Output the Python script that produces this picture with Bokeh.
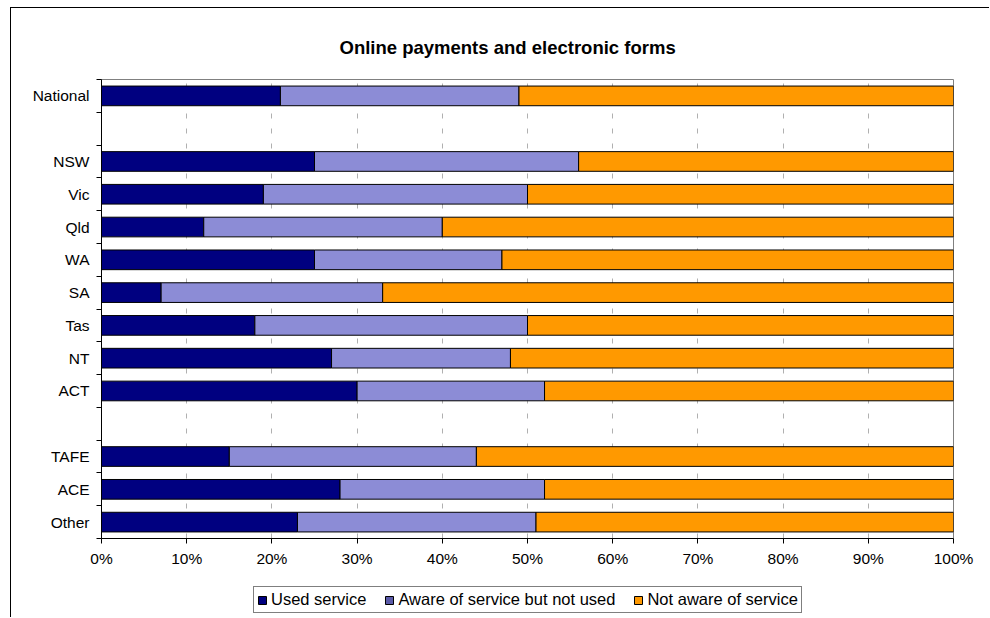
from bokeh.plotting import figure
from bokeh.layouts import column
from bokeh.models import (ColumnDataSource, Range1d, FixedTicker, SingleIntervalTicker,
                          PrintfTickFormatter, Legend, LegendItem)
from bokeh.transform import stack
from bokeh.embed import file_html
from bokeh.resources import INLINE

# ---- data (percent) ----
categories = ["National", "", "NSW", "Vic", "Qld", "WA", "SA", "Tas", "NT", "ACT", "", "TAFE", "ACE", "Other"]
used      = [21, None, 25, 19, 12, 25, 7, 18, 27, 30, None, 15, 28, 23]
aware     = [28, None, 31, 31, 28, 22, 26, 32, 21, 22, None, 29, 24, 28]
not_aware = [51, None, 44, 50, 60, 53, 67, 50, 52, 48, None, 56, 48, 49]
series_names = ["Used service", "Aware of service but not used", "Not aware of service"]
series_colors = ["#000080", "#8c8cd6", "#FF9900"]

n = len(categories)
pos = [n - i - 0.5 for i in range(n)]
keep = [i for i, c in enumerate(categories) if c]
src = ColumnDataSource(dict(
    y=[pos[i] for i in keep],
    cat=[categories[i] for i in keep],
    used=[used[i] for i in keep],
    aware=[aware[i] for i in keep],
    not_aware=[not_aware[i] for i in keep],
))

FONT = "Liberation Sans"
BORDER = "1px solid #000000"

p = figure(width=979, height=571, output_backend="svg", toolbar_location=None,
           x_range=Range1d(0, 100), y_range=Range1d(0, n),
           min_border_left=90, min_border_right=37, min_border_top=71, min_border_bottom=41)
p.margin = (7, 0, 0, 10)
p.styles = {"border-left": BORDER, "border-top": BORDER}

p.background_fill_color = "white"
p.border_fill_color = "white"
p.outline_line_color = "#808080"

# title
p.title.text = "Online payments and electronic forms"
p.title.text_font = FONT
p.title.text_font_size = "18.5px"
p.title.text_font_style = "bold"
p.title.text_color = "black"
p.title.align = "left"
p.title.offset = 238
p.title.standoff = 44

h = 0.6
r1 = p.hbar(y="y", left=0, right=stack("used"), height=h, source=src,
            fill_color=series_colors[0], line_color="black", line_width=1)
r2 = p.hbar(y="y", left=stack("used"), right=stack("used", "aware"), height=h, source=src,
            fill_color=series_colors[1], line_color="black", line_width=1)
r3 = p.hbar(y="y", left=stack("used", "aware"), right=stack("used", "aware", "not_aware"),
            height=h, source=src, fill_color=series_colors[2], line_color="black", line_width=1)

# x axis
xa = p.xaxis[0]
xa.ticker = SingleIntervalTicker(interval=10, num_minor_ticks=0)
xa.formatter = PrintfTickFormatter(format="%d%%")
xa.major_tick_out = 5
xa.major_tick_in = 0
xa.minor_tick_line_color = None
xa.axis_line_color = "black"
xa.major_tick_line_color = "black"
xa.major_label_text_font = FONT
xa.major_label_text_font_size = "15.5px"
xa.major_label_text_color = "black"
xa.major_label_standoff = 6

# y axis
ya = p.yaxis[0]
ya.ticker = FixedTicker(ticks=[pos[i] for i in keep], minor_ticks=list(range(0, n + 1)))
ya.major_label_overrides = {pos[i]: categories[i] for i in keep}
ya.major_tick_line_color = None
ya.minor_tick_line_color = "black"
ya.minor_tick_out = 5
ya.minor_tick_in = 0
ya.axis_line_color = "black"
ya.major_label_text_font = FONT
ya.major_label_text_font_size = "15.5px"
ya.major_label_text_color = "black"
ya.major_label_standoff = 6

# grid
p.ygrid.grid_line_color = None
p.xgrid.ticker = SingleIntervalTicker(interval=10, num_minor_ticks=0)
p.xgrid.grid_line_color = "#b0b0b0"
p.xgrid.grid_line_dash = "5 10"
p.xgrid.grid_line_width = 1

# ---- legend strip (separate figure below the chart) ----
p2 = figure(width=979, height=39, output_backend="svg", toolbar_location=None,
            x_range=Range1d(0, 1), y_range=Range1d(0, 1),
            x_axis_location=None, y_axis_location=None,
            min_border_left=0, min_border_right=0, min_border_top=0, min_border_bottom=0)
p2.margin = (0, 0, 0, 10)
p2.styles = {"border-left": BORDER}
p2.outline_line_color = None
p2.grid.grid_line_color = None
p2.background_fill_color = "white"
p2.border_fill_color = "white"

# off-range swatch renderers, only used to draw the legend keys
swatch = ColumnDataSource(dict(y=[-10], right=[-10]))
d1 = p2.hbar(y="y", right="right", height=0.5, source=swatch,
             fill_color=series_colors[0], line_color="black")
d2 = p2.hbar(y="y", right="right", height=0.5, source=swatch,
             fill_color="#5a5aa8", line_color="black")
d3 = p2.hbar(y="y", right="right", height=0.5, source=swatch,
             fill_color=series_colors[2], line_color="black")

legend = Legend(items=[LegendItem(label=series_names[0], renderers=[d1]),
                       LegendItem(label=series_names[1], renderers=[d2]),
                       LegendItem(label=series_names[2], renderers=[d3])],
                orientation="horizontal", location=(152, 4))
legend.label_text_font = FONT
legend.label_text_font_size = "16.5px"
legend.label_text_color = "black"
legend.glyph_width = 10
legend.glyph_height = 10
legend.label_standoff = 4
legend.spacing = 18
legend.padding = 3
legend.margin = 0
legend.label_height = 18
legend.border_line_color = "black"
legend.border_line_width = 1
legend.background_fill_color = "white"
legend.background_fill_alpha = 1
p2.add_layout(legend, "center")

layout = column(p, p2, spacing=0)
open("out.html", "w").write(file_html(layout, INLINE))
